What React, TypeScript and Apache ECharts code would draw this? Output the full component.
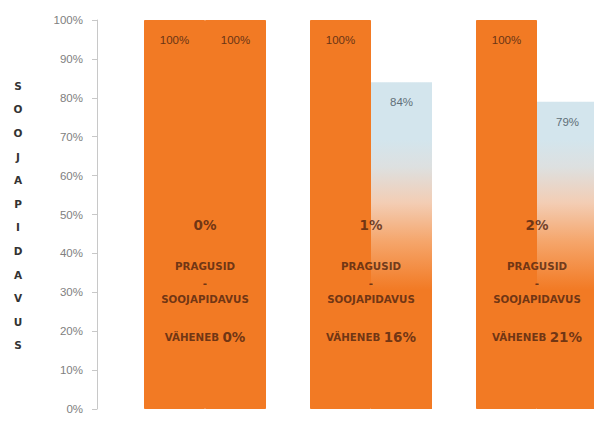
import React, { useEffect, useRef } from "react";
import * as echarts from "echarts";

const categories = ["A", "B", "C"];
const currentValues = [100, 100, 100];
const afterValues = [100, 84, 79];
const ratioLabels = ["0%", "1%", "2%"];
const decreaseLabels = ["0%", "16%", "21%"];
const yTicks = [0, 10, 20, 30, 40, 50, 60, 70, 80, 90, 100];
const axisTitle = "SOOJAPIDAVUS";

const ORANGE = "#F27A24";
const TEXT_DARK = "#4e2410";

export default function App() {
  const ref = useRef<HTMLDivElement>(null);
  useEffect(() => {
    if (!ref.current) return;
    const chart = echarts.init(ref.current, undefined, { renderer: "svg" });
    const fadeGradient = new echarts.graphic.LinearGradient(
      0, 140, 0, 290,
      [
        { offset: 0, color: "#d3e5ed" },
        { offset: 0.18, color: "#dde0e0" },
        { offset: 0.42, color: "#f3cdb4" },
        { offset: 0.68, color: "#f5a56a" },
        { offset: 1, color: ORANGE },
      ],
      true
    );
    const textFont = "DejaVu Sans";
    chart.setOption({
      animation: false,
      grid: { left: 122, right: 0, top: 20, bottom: 12 },
      xAxis: {
        type: "category",
        data: categories,
        show: false,
      },
      yAxis: {
        type: "value",
        min: 0,
        max: 100,
        interval: 10,
        offset: 25,
        axisLine: { show: true, lineStyle: { color: "#c8c8c8", width: 1 } },
        axisTick: { show: true, length: 5, lineStyle: { color: "#c8c8c8" } },
        splitLine: { show: false },
        axisLabel: {
          margin: 14,
          color: "#808080",
          fontSize: 11.5,
          fontFamily: "Liberation Sans",
          formatter: (v: number) => (yTicks.includes(v) ? v + "%" : ""),
        },
      },
      graphic: [
        {
          type: "text",
          x: 18,
          y: 74,
          style: {
            text: axisTitle.split("").join("\n"),
            fontSize: 10.5,
            fontWeight: "bold",
            fontFamily: textFont,
            fill: "#333",
            lineHeight: 23.6,
            textAlign: "center",
            textVerticalAlign: "top",
          },
        },
      ],
      series: [
        {
          type: "bar",
          data: currentValues,
          barWidth: 61,
          barGap: "0%",
          itemStyle: { color: ORANGE, borderColor: ORANGE, borderWidth: 1 },
          label: {
            show: true,
            position: "insideTop",
            distance: 14,
            formatter: "{c}%",
            color: "#6a3415",
            fontSize: 11.5,
            fontFamily: "Liberation Sans",
          },
        },
        {
          type: "bar",
          data: afterValues.map((v, i) => ({
            value: v,
            itemStyle:
              i === 0
                ? { color: ORANGE, borderColor: ORANGE, borderWidth: 1 }
                : { color: fadeGradient, borderWidth: 0 },
            label: { color: i === 0 ? "#6a3415" : "#5f6f78" },
          })),
          barWidth: 61,
          barGap: "0%",
          label: {
            show: true,
            position: "insideTop",
            distance: 14,
            formatter: "{c}%",
            fontSize: 11.5,
            fontFamily: "Liberation Sans",
          },
        },
        {
          type: "scatter",
          symbolSize: 0,
          silent: true,
          data: categories.map((c, i) => [c, 47.3, i]),
          label: {
            show: true,
            position: "inside",
            formatter: (p: any) => ratioLabels[p.data[2]],
            color: TEXT_DARK,
            fontSize: 13.5,
            fontWeight: "bold",
            fontFamily: textFont,
          },
        },
        {
          type: "scatter",
          symbolSize: 0,
          silent: true,
          data: categories.map((c) => [c, 32.4]),
          label: {
            show: true,
            position: "inside",
            formatter: "PRAGUSID\n-\nSOOJAPIDAVUS",
            color: TEXT_DARK,
            fontSize: 10.3,
            lineHeight: 16.5,
            fontWeight: "bold",
            fontFamily: textFont,
            align: "center",
          },
        },
        {
          type: "scatter",
          symbolSize: 0,
          silent: true,
          data: categories.map((c, i) => [c, 18.5, i]),
          label: {
            show: true,
            position: "inside",
            formatter: (p: any) => "{a|VÄHENEB} {b|" + decreaseLabels[p.data[2]] + "}",
            rich: {
              a: { fontSize: 10.3, fontWeight: "bold", fontFamily: textFont, color: TEXT_DARK },
              b: { fontSize: 13.5, fontWeight: "bold", fontFamily: textFont, color: TEXT_DARK },
            },
          },
        },
      ],
    });
    return () => chart.dispose();
  }, []);
  return (
    <div style={{ position: "absolute", left: 0, top: 0, width: 594, height: 421, overflow: "hidden" }}>
      <div ref={ref} style={{ width: 620, height: 421 }} />
    </div>
  );
}
